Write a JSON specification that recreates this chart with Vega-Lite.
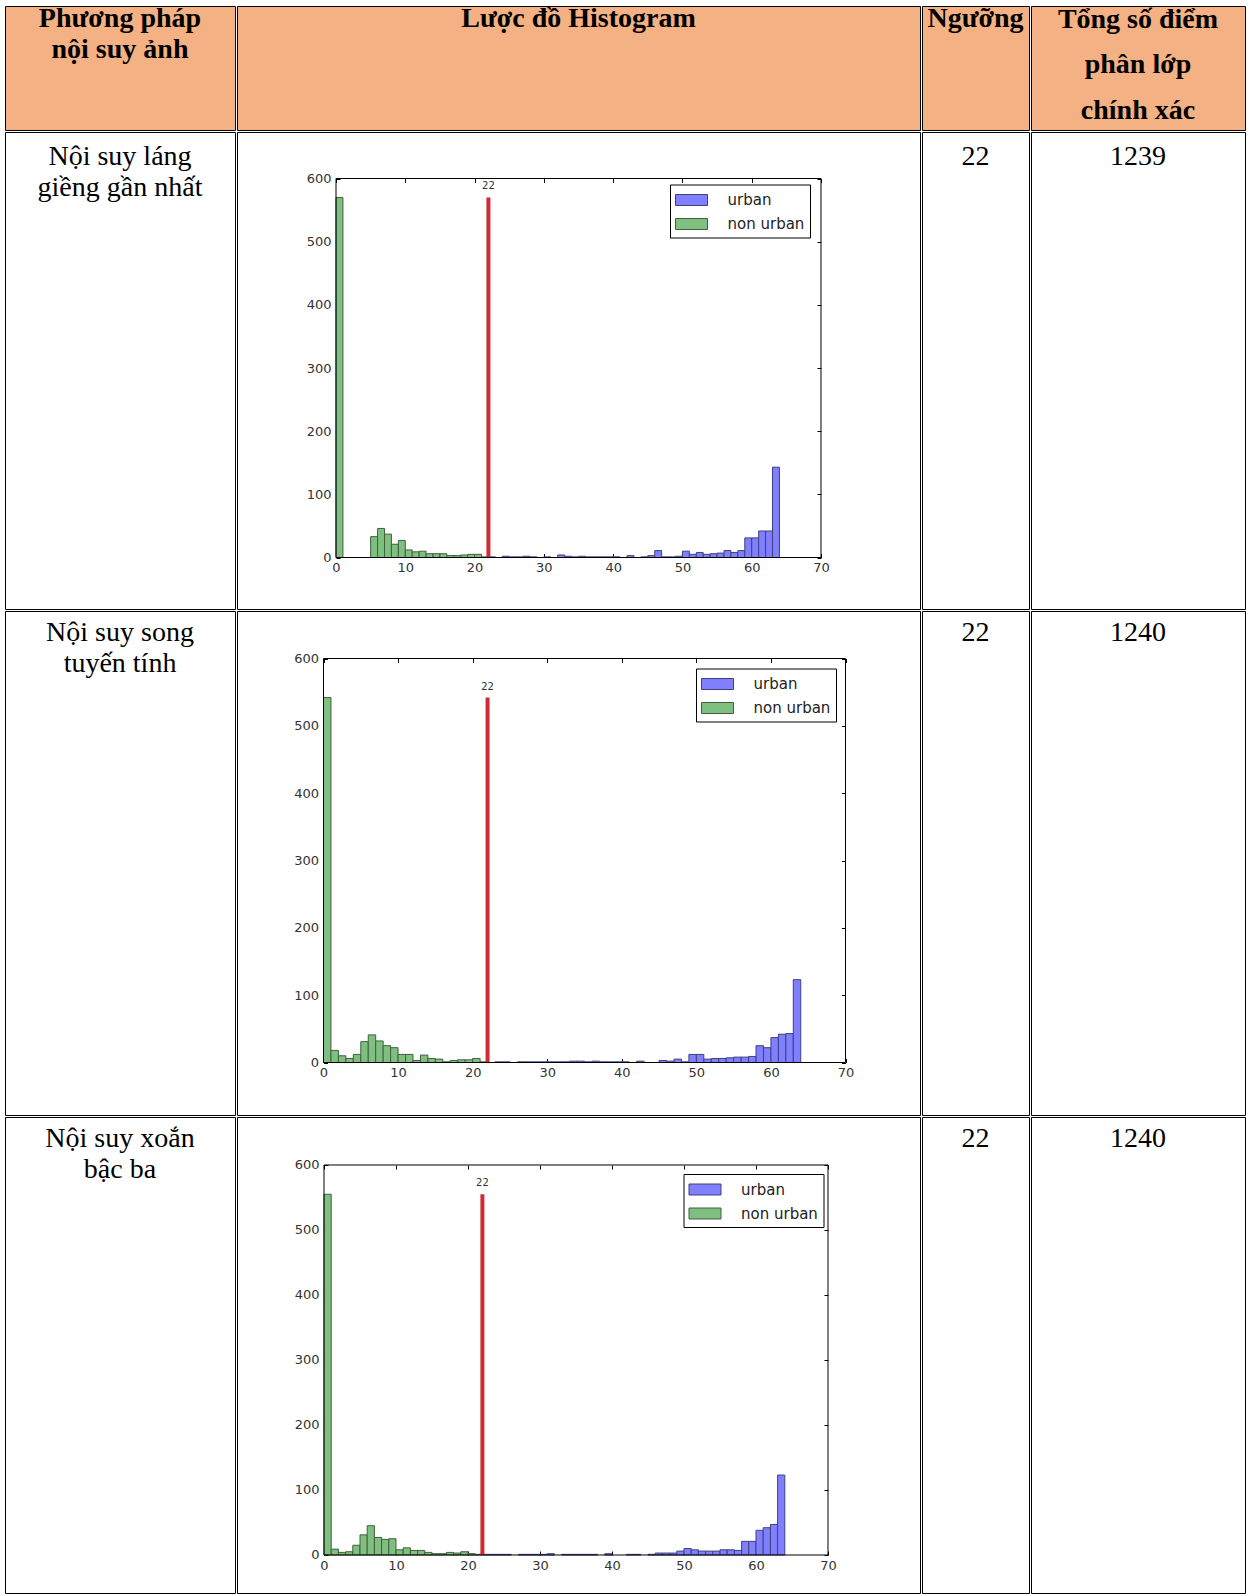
{
  "$schema": "https://vega.github.io/schema/vega-lite/v6.json",
  "padding": {"left": 4, "top": 4, "right": 0, "bottom": 0},
  "background": "white",
  "config": {
    "view": {"stroke": null},
    "concat": {"spacing": 0},
    "legend": {
      "padding": 5, "strokeColor": "black", "fillColor": "white", "cornerRadius": 0,
      "labelFont": "DejaVu Sans", "labelFontSize": 15, "labelColor": "#222",
      "symbolType": "M-1.6,-0.55H1.6V0.55H-1.6Z", "symbolSize": 400, "symbolStrokeWidth": 1,
      "symbolOffset": 6, "labelOffset": 25.5, "rowPadding": 5
    }
  },
  "resolve": {"legend": {"fill": "independent", "stroke": "independent"}},
  "datasets": {
    "h1": [
      {"lo":0,"hi":1,"n":570,"cls":"non urban"},{"lo":5,"hi":6,"n":33,"cls":"non urban"},{"lo":6,"hi":7,"n":46,"cls":"non urban"},{"lo":7,"hi":8,"n":37,"cls":"non urban"},{"lo":8,"hi":9,"n":21,"cls":"non urban"},{"lo":9,"hi":10,"n":27,"cls":"non urban"},{"lo":10,"hi":11,"n":12,"cls":"non urban"},{"lo":11,"hi":12,"n":9,"cls":"non urban"},{"lo":12,"hi":13,"n":10,"cls":"non urban"},{"lo":13,"hi":14,"n":6,"cls":"non urban"},{"lo":14,"hi":15,"n":6,"cls":"non urban"},{"lo":15,"hi":16,"n":6,"cls":"non urban"},{"lo":16,"hi":17,"n":3,"cls":"non urban"},{"lo":17,"hi":18,"n":3,"cls":"non urban"},{"lo":18,"hi":19,"n":4,"cls":"non urban"},{"lo":19,"hi":20,"n":5,"cls":"non urban"},{"lo":20,"hi":21,"n":5,"cls":"non urban"},{"lo":21,"hi":22,"n":1,"cls":"non urban"},
      {"lo":22,"hi":23,"n":1,"cls":"urban"},{"lo":24,"hi":25,"n":2,"cls":"urban"},{"lo":25,"hi":26,"n":1,"cls":"urban"},{"lo":26,"hi":27,"n":1,"cls":"urban"},{"lo":27,"hi":28,"n":2,"cls":"urban"},{"lo":28,"hi":29,"n":1,"cls":"urban"},{"lo":30,"hi":31,"n":1,"cls":"urban"},{"lo":32,"hi":33,"n":4,"cls":"urban"},{"lo":33,"hi":34,"n":2,"cls":"urban"},{"lo":34,"hi":35,"n":1,"cls":"urban"},{"lo":35,"hi":36,"n":2,"cls":"urban"},{"lo":36,"hi":37,"n":1,"cls":"urban"},{"lo":37,"hi":38,"n":1,"cls":"urban"},{"lo":38,"hi":39,"n":1,"cls":"urban"},{"lo":39,"hi":40,"n":1,"cls":"urban"},{"lo":40,"hi":41,"n":1,"cls":"urban"},{"lo":42,"hi":43,"n":3,"cls":"urban"},{"lo":44,"hi":45,"n":1,"cls":"urban"},{"lo":45,"hi":46,"n":3,"cls":"urban"},{"lo":46,"hi":47,"n":11,"cls":"urban"},{"lo":47,"hi":48,"n":1,"cls":"urban"},{"lo":48,"hi":49,"n":1,"cls":"urban"},{"lo":49,"hi":50,"n":2,"cls":"urban"},{"lo":50,"hi":51,"n":10,"cls":"urban"},{"lo":51,"hi":52,"n":5,"cls":"urban"},{"lo":52,"hi":53,"n":8,"cls":"urban"},{"lo":53,"hi":54,"n":5,"cls":"urban"},{"lo":54,"hi":55,"n":6,"cls":"urban"},{"lo":55,"hi":56,"n":7,"cls":"urban"},{"lo":56,"hi":57,"n":11,"cls":"urban"},{"lo":57,"hi":58,"n":8,"cls":"urban"},{"lo":58,"hi":59,"n":11,"cls":"urban"},{"lo":59,"hi":60,"n":31,"cls":"urban"},{"lo":60,"hi":61,"n":31,"cls":"urban"},{"lo":61,"hi":62,"n":42,"cls":"urban"},{"lo":62,"hi":63,"n":42,"cls":"urban"},{"lo":63,"hi":64,"n":143,"cls":"urban"}
    ],
    "h2": [
      {"lo":0,"hi":1,"n":542,"cls":"non urban"},{"lo":1,"hi":2,"n":18,"cls":"non urban"},{"lo":2,"hi":3,"n":10,"cls":"non urban"},{"lo":3,"hi":4,"n":6,"cls":"non urban"},{"lo":4,"hi":5,"n":12,"cls":"non urban"},{"lo":5,"hi":6,"n":31,"cls":"non urban"},{"lo":6,"hi":7,"n":41,"cls":"non urban"},{"lo":7,"hi":8,"n":32,"cls":"non urban"},{"lo":8,"hi":9,"n":25,"cls":"non urban"},{"lo":9,"hi":10,"n":22,"cls":"non urban"},{"lo":10,"hi":11,"n":12,"cls":"non urban"},{"lo":11,"hi":12,"n":12,"cls":"non urban"},{"lo":12,"hi":13,"n":3,"cls":"non urban"},{"lo":13,"hi":14,"n":11,"cls":"non urban"},{"lo":14,"hi":15,"n":6,"cls":"non urban"},{"lo":15,"hi":16,"n":5,"cls":"non urban"},{"lo":16,"hi":17,"n":1,"cls":"non urban"},{"lo":17,"hi":18,"n":3,"cls":"non urban"},{"lo":18,"hi":19,"n":4,"cls":"non urban"},{"lo":19,"hi":20,"n":4,"cls":"non urban"},{"lo":20,"hi":21,"n":6,"cls":"non urban"},{"lo":21,"hi":22,"n":1,"cls":"non urban"},
      {"lo":23,"hi":24,"n":1,"cls":"urban"},{"lo":24,"hi":25,"n":1,"cls":"urban"},{"lo":26,"hi":27,"n":1,"cls":"urban"},{"lo":27,"hi":28,"n":1,"cls":"urban"},{"lo":28,"hi":29,"n":1,"cls":"urban"},{"lo":29,"hi":30,"n":1,"cls":"urban"},{"lo":30,"hi":31,"n":1,"cls":"urban"},{"lo":31,"hi":32,"n":1,"cls":"urban"},{"lo":32,"hi":33,"n":1,"cls":"urban"},{"lo":33,"hi":34,"n":2,"cls":"urban"},{"lo":34,"hi":35,"n":2,"cls":"urban"},{"lo":35,"hi":36,"n":1,"cls":"urban"},{"lo":36,"hi":37,"n":2,"cls":"urban"},{"lo":37,"hi":38,"n":1,"cls":"urban"},{"lo":38,"hi":39,"n":1,"cls":"urban"},{"lo":39,"hi":40,"n":1,"cls":"urban"},{"lo":40,"hi":41,"n":1,"cls":"urban"},{"lo":42,"hi":43,"n":2,"cls":"urban"},{"lo":45,"hi":46,"n":3,"cls":"urban"},{"lo":46,"hi":47,"n":2,"cls":"urban"},{"lo":47,"hi":48,"n":5,"cls":"urban"},{"lo":48,"hi":49,"n":1,"cls":"urban"},{"lo":49,"hi":50,"n":12,"cls":"urban"},{"lo":50,"hi":51,"n":12,"cls":"urban"},{"lo":51,"hi":52,"n":5,"cls":"urban"},{"lo":52,"hi":53,"n":6,"cls":"urban"},{"lo":53,"hi":54,"n":6,"cls":"urban"},{"lo":54,"hi":55,"n":7,"cls":"urban"},{"lo":55,"hi":56,"n":8,"cls":"urban"},{"lo":56,"hi":57,"n":8,"cls":"urban"},{"lo":57,"hi":58,"n":9,"cls":"urban"},{"lo":58,"hi":59,"n":25,"cls":"urban"},{"lo":59,"hi":60,"n":22,"cls":"urban"},{"lo":60,"hi":61,"n":37,"cls":"urban"},{"lo":61,"hi":62,"n":42,"cls":"urban"},{"lo":62,"hi":63,"n":43,"cls":"urban"},{"lo":63,"hi":64,"n":123,"cls":"urban"}
    ],
    "h3": [
      {"lo":0,"hi":1,"n":555,"cls":"non urban"},{"lo":1,"hi":2,"n":9,"cls":"non urban"},{"lo":2,"hi":3,"n":4,"cls":"non urban"},{"lo":3,"hi":4,"n":5,"cls":"non urban"},{"lo":4,"hi":5,"n":15,"cls":"non urban"},{"lo":5,"hi":6,"n":31,"cls":"non urban"},{"lo":6,"hi":7,"n":45,"cls":"non urban"},{"lo":7,"hi":8,"n":27,"cls":"non urban"},{"lo":8,"hi":9,"n":24,"cls":"non urban"},{"lo":9,"hi":10,"n":25,"cls":"non urban"},{"lo":10,"hi":11,"n":8,"cls":"non urban"},{"lo":11,"hi":12,"n":11,"cls":"non urban"},{"lo":12,"hi":13,"n":7,"cls":"non urban"},{"lo":13,"hi":14,"n":7,"cls":"non urban"},{"lo":14,"hi":15,"n":4,"cls":"non urban"},{"lo":15,"hi":16,"n":2,"cls":"non urban"},{"lo":16,"hi":17,"n":2,"cls":"non urban"},{"lo":17,"hi":18,"n":4,"cls":"non urban"},{"lo":18,"hi":19,"n":3,"cls":"non urban"},{"lo":19,"hi":20,"n":5,"cls":"non urban"},{"lo":20,"hi":21,"n":2,"cls":"non urban"},{"lo":21,"hi":22,"n":1,"cls":"non urban"},
      {"lo":22,"hi":23,"n":1,"cls":"urban"},{"lo":23,"hi":24,"n":1,"cls":"urban"},{"lo":24,"hi":25,"n":1,"cls":"urban"},{"lo":25,"hi":26,"n":1,"cls":"urban"},{"lo":27,"hi":28,"n":1,"cls":"urban"},{"lo":28,"hi":29,"n":1,"cls":"urban"},{"lo":29,"hi":30,"n":1,"cls":"urban"},{"lo":30,"hi":31,"n":1,"cls":"urban"},{"lo":31,"hi":32,"n":2,"cls":"urban"},{"lo":33,"hi":34,"n":1,"cls":"urban"},{"lo":34,"hi":35,"n":1,"cls":"urban"},{"lo":35,"hi":36,"n":1,"cls":"urban"},{"lo":36,"hi":37,"n":1,"cls":"urban"},{"lo":37,"hi":38,"n":1,"cls":"urban"},{"lo":39,"hi":40,"n":2,"cls":"urban"},{"lo":42,"hi":43,"n":1,"cls":"urban"},{"lo":43,"hi":44,"n":1,"cls":"urban"},{"lo":45,"hi":46,"n":1,"cls":"urban"},{"lo":46,"hi":47,"n":3,"cls":"urban"},{"lo":47,"hi":48,"n":3,"cls":"urban"},{"lo":48,"hi":49,"n":3,"cls":"urban"},{"lo":49,"hi":50,"n":6,"cls":"urban"},{"lo":50,"hi":51,"n":10,"cls":"urban"},{"lo":51,"hi":52,"n":8,"cls":"urban"},{"lo":52,"hi":53,"n":6,"cls":"urban"},{"lo":53,"hi":54,"n":6,"cls":"urban"},{"lo":54,"hi":55,"n":6,"cls":"urban"},{"lo":55,"hi":56,"n":8,"cls":"urban"},{"lo":56,"hi":57,"n":8,"cls":"urban"},{"lo":57,"hi":58,"n":7,"cls":"urban"},{"lo":58,"hi":59,"n":21,"cls":"urban"},{"lo":59,"hi":60,"n":21,"cls":"urban"},{"lo":60,"hi":61,"n":38,"cls":"urban"},{"lo":61,"hi":62,"n":42,"cls":"urban"},{"lo":62,"hi":63,"n":47,"cls":"urban"},{"lo":63,"hi":64,"n":123,"cls":"urban"}
    ],
    "t1": [{"thr": 22, "top": 570}],
    "t2": [{"thr": 22, "top": 542}],
    "t3": [{"thr": 22, "top": 555}]
  },
  "vconcat": [
    {
      "resolve": {"legend": {"fill": "independent", "stroke": "independent"}},
      "hconcat": [
        {"width": 230, "height": 124, "view": {"stroke": "black", "strokeWidth": 1, "fill": "#F4B183"},
         "data": {"values": [{"line": 0, "t": "Phương pháp"}, {"line": 1, "t": "nội suy ảnh"}]},
         "mark": {"type": "text", "font": "Liberation Serif", "fontSize": 28, "fontWeight": "bold", "baseline": "middle", "color": "black"},
         "encoding": {"y": {"field": "line", "type": "quantitative", "scale": {"domain": [-0.4426, 3.623], "reverse": true, "nice": false, "zero": false}, "axis": null}, "text": {"field": "t", "type": "nominal"}}},
        {"width": 683, "height": 124, "view": {"stroke": "black", "strokeWidth": 1, "fill": "#F4B183"},
         "data": {"values": [{"line": 0, "t": "Lược đồ Histogram"}]},
         "mark": {"type": "text", "font": "Liberation Serif", "fontSize": 28, "fontWeight": "bold", "baseline": "middle", "color": "black"},
         "encoding": {"y": {"field": "line", "type": "quantitative", "scale": {"domain": [-0.4426, 3.623], "reverse": true, "nice": false, "zero": false}, "axis": null}, "text": {"field": "t", "type": "nominal"}}},
        {"width": 107, "height": 124, "view": {"stroke": "black", "strokeWidth": 1, "fill": "#F4B183"},
         "data": {"values": [{"line": 0, "t": "Ngưỡng"}]},
         "mark": {"type": "text", "font": "Liberation Serif", "fontSize": 28, "fontWeight": "bold", "baseline": "middle", "color": "black"},
         "encoding": {"y": {"field": "line", "type": "quantitative", "scale": {"domain": [-0.4426, 3.623], "reverse": true, "nice": false, "zero": false}, "axis": null}, "text": {"field": "t", "type": "nominal"}}},
        {"width": 214, "height": 124, "view": {"stroke": "black", "strokeWidth": 1, "fill": "#F4B183"},
         "data": {"values": [{"line": 0, "t": "Tổng số điểm"}, {"line": 1, "t": "phân lớp"}, {"line": 2, "t": "chính xác"}]},
         "mark": {"type": "text", "font": "Liberation Serif", "fontSize": 28, "fontWeight": "bold", "baseline": "middle", "color": "black"},
         "encoding": {"y": {"field": "line", "type": "quantitative", "scale": {"domain": [-0.2935, 2.4022], "reverse": true, "nice": false, "zero": false}, "axis": null}, "text": {"field": "t", "type": "nominal"}}}
      ]
    },
    {
      "resolve": {"legend": {"fill": "independent", "stroke": "independent"}},
      "hconcat": [
        {"width": 230, "height": 477, "view": {"stroke": "black", "strokeWidth": 1},
         "data": {"values": [{"line": 0, "t": "Nội suy láng"}, {"line": 1, "t": "giềng gần nhất"}]},
         "mark": {"type": "text", "font": "Liberation Serif", "fontSize": 28, "baseline": "middle", "color": "black"},
         "encoding": {"y": {"field": "line", "type": "quantitative", "scale": {"domain": [-0.8065, 14.5806], "reverse": true, "nice": false, "zero": false}, "axis": null}, "text": {"field": "t", "type": "nominal"}}},
        {
          "width": 683, "height": 477,
          "view": {"stroke": "black", "strokeWidth": 1},
          "layer": [
            {"data": {"name": "h1"}, "mark": {"type": "bar", "strokeWidth": 1},
             "encoding": {
               "x": {"field": "lo", "type": "quantitative", "scale": {"domain": [-14.289, 84.289], "nice": false, "zero": false},
                     "axis": {"offset": -51.5, "title": null, "values": [0,10,20,30,40,50,60,70], "domain": false, "grid": false, "tickSize": -4, "tickColor": "black", "labelPadding": 8, "labelFont": "DejaVu Sans", "labelFontSize": 13, "labelColor": "#333", "labelFlush": false, "labelOverlap": false}},
               "x2": {"field": "hi"},
               "y": {"field": "n", "type": "quantitative", "scale": {"domain": [-81.53, 673.615], "nice": false, "zero": false},
                     "axis": {"offset": -99, "title": null, "values": [0,100,200,300,400,500,600], "domain": false, "grid": false, "tickSize": -4, "tickColor": "black", "labelPadding": 9, "labelFont": "DejaVu Sans", "labelFontSize": 13, "labelColor": "#333", "labelFlush": false, "labelOverlap": false}},
               "y2": {"datum": 0},
               "fill": {"field": "cls", "type": "nominal", "scale": {"domain": ["urban", "non urban"], "range": ["#7f7fff", "#7fbf7f"]}, "legend": {"title": null, "orient": "none", "legendX": 433, "legendY": 52.5}},
               "stroke": {"field": "cls", "type": "nominal", "scale": {"domain": ["urban", "non urban"], "range": ["#40407f", "#40603f"]}, "legend": {"title": null, "orient": "none", "legendX": 433, "legendY": 52.5}}
             }},
            {"data": {"name": "t1"}, "mark": {"type": "rule", "color": "#d12a35", "strokeWidth": 4},
             "encoding": {"x": {"field": "thr", "type": "quantitative", "axis": null}, "y": {"field": "top", "type": "quantitative", "axis": null}, "y2": {"datum": 0}}},
            {"data": {"name": "t1"}, "mark": {"type": "text", "font": "DejaVu Sans", "fontSize": 10, "color": "#333", "baseline": "bottom", "dy": -6},
             "encoding": {
               "x": {"field": "thr", "type": "quantitative", "axis": {"orient": "top", "offset": -46.5, "title": null, "labels": false, "values": [0,10,20,30,40,50,60,70], "domain": false, "grid": false, "tickSize": -4, "tickColor": "black"}},
               "y": {"field": "top", "type": "quantitative", "axis": {"orient": "right", "offset": -99, "title": null, "labels": false, "values": [0,100,200,300,400,500,600], "domain": false, "grid": false, "tickSize": -4, "tickColor": "black"}},
               "text": {"field": "thr", "type": "quantitative"}
             }},
            {"data": {"values": [{}]}, "mark": {"type": "rect", "filled": false, "color": "black", "strokeWidth": 1},
             "encoding": {"x": {"datum": 0, "type": "quantitative", "axis": null}, "x2": {"datum": 70}, "y": {"datum": 0, "type": "quantitative", "axis": null}, "y2": {"datum": 600}}}
          ],
          "resolve": {"axis": {"x": "independent", "y": "independent"}}
        },
        {"width": 107, "height": 477, "view": {"stroke": "black", "strokeWidth": 1},
         "data": {"values": [{"line": 0, "t": "22"}]},
         "mark": {"type": "text", "font": "Liberation Serif", "fontSize": 28, "baseline": "middle", "color": "black"},
         "encoding": {"y": {"field": "line", "type": "quantitative", "scale": {"domain": [-0.8065, 14.5806], "reverse": true, "nice": false, "zero": false}, "axis": null}, "text": {"field": "t", "type": "nominal"}}},
        {"width": 214, "height": 477, "view": {"stroke": "black", "strokeWidth": 1},
         "data": {"values": [{"line": 0, "t": "1239"}]},
         "mark": {"type": "text", "font": "Liberation Serif", "fontSize": 28, "baseline": "middle", "color": "black"},
         "encoding": {"y": {"field": "line", "type": "quantitative", "scale": {"domain": [-0.8065, 14.5806], "reverse": true, "nice": false, "zero": false}, "axis": null}, "text": {"field": "t", "type": "nominal"}}}
      ]
    },
    {
      "resolve": {"legend": {"fill": "independent", "stroke": "independent"}},
      "hconcat": [
        {"width": 230, "height": 504, "view": {"stroke": "black", "strokeWidth": 1},
         "data": {"values": [{"line": 0, "t": "Nội suy song"}, {"line": 1, "t": "tuyến tính"}]},
         "mark": {"type": "text", "font": "Liberation Serif", "fontSize": 28, "baseline": "middle", "color": "black"},
         "encoding": {"y": {"field": "line", "type": "quantitative", "scale": {"domain": [-0.7097, 15.5484], "reverse": true, "nice": false, "zero": false}, "axis": null}, "text": {"field": "t", "type": "nominal"}}},
        {
          "width": 683, "height": 504,
          "view": {"stroke": "black", "strokeWidth": 1},
          "layer": [
            {"data": {"name": "h2"}, "mark": {"type": "bar", "strokeWidth": 1},
             "encoding": {
               "x": {"field": "lo", "type": "quantitative", "scale": {"domain": [-11.6, 79.99], "nice": false, "zero": false},
                     "axis": {"offset": -52.5, "title": null, "values": [0,10,20,30,40,50,60,70], "domain": false, "grid": false, "tickSize": -4, "tickColor": "black", "labelPadding": 8, "labelFont": "DejaVu Sans", "labelFontSize": 13, "labelColor": "#333", "labelFlush": false, "labelOverlap": false}},
               "x2": {"field": "hi"},
               "y": {"field": "n", "type": "quantitative", "scale": {"domain": [-77.97, 670.545], "nice": false, "zero": false},
                     "axis": {"offset": -86.5, "title": null, "values": [0,100,200,300,400,500,600], "domain": false, "grid": false, "tickSize": -4, "tickColor": "black", "labelPadding": 9, "labelFont": "DejaVu Sans", "labelFontSize": 13, "labelColor": "#333", "labelFlush": false, "labelOverlap": false}},
               "y2": {"datum": 0},
               "fill": {"field": "cls", "type": "nominal", "scale": {"domain": ["urban", "non urban"], "range": ["#7f7fff", "#7fbf7f"]}, "legend": {"title": null, "orient": "none", "legendX": 459, "legendY": 57.5}},
               "stroke": {"field": "cls", "type": "nominal", "scale": {"domain": ["urban", "non urban"], "range": ["#40407f", "#40603f"]}, "legend": {"title": null, "orient": "none", "legendX": 459, "legendY": 57.5}}
             }},
            {"data": {"name": "t2"}, "mark": {"type": "rule", "color": "#d12a35", "strokeWidth": 4},
             "encoding": {"x": {"field": "thr", "type": "quantitative", "axis": null}, "y": {"field": "top", "type": "quantitative", "axis": null}, "y2": {"datum": 0}}},
            {"data": {"name": "t2"}, "mark": {"type": "text", "font": "DejaVu Sans", "fontSize": 10, "color": "#333", "baseline": "bottom", "dy": -6},
             "encoding": {
               "x": {"field": "thr", "type": "quantitative", "axis": {"orient": "top", "offset": -47.5, "title": null, "labels": false, "values": [0,10,20,30,40,50,60,70], "domain": false, "grid": false, "tickSize": -4, "tickColor": "black"}},
               "y": {"field": "top", "type": "quantitative", "axis": {"orient": "right", "offset": -74.5, "title": null, "labels": false, "values": [0,100,200,300,400,500,600], "domain": false, "grid": false, "tickSize": -4, "tickColor": "black"}},
               "text": {"field": "thr", "type": "quantitative"}
             }},
            {"data": {"values": [{}]}, "mark": {"type": "rect", "filled": false, "color": "black", "strokeWidth": 1},
             "encoding": {"x": {"datum": 0, "type": "quantitative", "axis": null}, "x2": {"datum": 70}, "y": {"datum": 0, "type": "quantitative", "axis": null}, "y2": {"datum": 600}}}
          ],
          "resolve": {"axis": {"x": "independent", "y": "independent"}}
        },
        {"width": 107, "height": 504, "view": {"stroke": "black", "strokeWidth": 1},
         "data": {"values": [{"line": 0, "t": "22"}]},
         "mark": {"type": "text", "font": "Liberation Serif", "fontSize": 28, "baseline": "middle", "color": "black"},
         "encoding": {"y": {"field": "line", "type": "quantitative", "scale": {"domain": [-0.7097, 15.5484], "reverse": true, "nice": false, "zero": false}, "axis": null}, "text": {"field": "t", "type": "nominal"}}},
        {"width": 214, "height": 504, "view": {"stroke": "black", "strokeWidth": 1},
         "data": {"values": [{"line": 0, "t": "1240"}]},
         "mark": {"type": "text", "font": "Liberation Serif", "fontSize": 28, "baseline": "middle", "color": "black"},
         "encoding": {"y": {"field": "line", "type": "quantitative", "scale": {"domain": [-0.7097, 15.5484], "reverse": true, "nice": false, "zero": false}, "axis": null}, "text": {"field": "t", "type": "nominal"}}}
      ]
    },
    {
      "resolve": {"legend": {"fill": "independent", "stroke": "independent"}},
      "hconcat": [
        {"width": 230, "height": 476, "view": {"stroke": "black", "strokeWidth": 1},
         "data": {"values": [{"line": 0, "t": "Nội suy xoắn"}, {"line": 1, "t": "bậc ba"}]},
         "mark": {"type": "text", "font": "Liberation Serif", "fontSize": 28, "baseline": "middle", "color": "black"},
         "encoding": {"y": {"field": "line", "type": "quantitative", "scale": {"domain": [-0.7097, 14.6451], "reverse": true, "nice": false, "zero": false}, "axis": null}, "text": {"field": "t", "type": "nominal"}}},
        {
          "width": 683, "height": 476,
          "view": {"stroke": "black", "strokeWidth": 1},
          "layer": [
            {"data": {"name": "h3"}, "mark": {"type": "bar", "strokeWidth": 1},
             "encoding": {
               "x": {"field": "lo", "type": "quantitative", "scale": {"domain": [-12.083, 82.778], "nice": false, "zero": false},
                     "axis": {"offset": -38, "title": null, "values": [0,10,20,30,40,50,60,70], "domain": false, "grid": false, "tickSize": -4, "tickColor": "black", "labelPadding": 8, "labelFont": "DejaVu Sans", "labelFontSize": 13, "labelColor": "#333", "labelFlush": false, "labelOverlap": false}},
               "x2": {"field": "hi"},
               "y": {"field": "n", "type": "quantitative", "scale": {"domain": [-58.462, 673.846], "nice": false, "zero": false},
                     "axis": {"offset": -87, "title": null, "values": [0,100,200,300,400,500,600], "domain": false, "grid": false, "tickSize": -4, "tickColor": "black", "labelPadding": 9, "labelFont": "DejaVu Sans", "labelFontSize": 13, "labelColor": "#333", "labelFlush": false, "labelOverlap": false}},
               "y2": {"datum": 0},
               "fill": {"field": "cls", "type": "nominal", "scale": {"domain": ["urban", "non urban"], "range": ["#7f7fff", "#7fbf7f"]}, "legend": {"title": null, "orient": "none", "legendX": 446.5, "legendY": 57}},
               "stroke": {"field": "cls", "type": "nominal", "scale": {"domain": ["urban", "non urban"], "range": ["#40407f", "#40603f"]}, "legend": {"title": null, "orient": "none", "legendX": 446.5, "legendY": 57}}
             }},
            {"data": {"name": "t3"}, "mark": {"type": "rule", "color": "#d12a35", "strokeWidth": 4},
             "encoding": {"x": {"field": "thr", "type": "quantitative", "axis": null}, "y": {"field": "top", "type": "quantitative", "axis": null}, "y2": {"datum": 0}}},
            {"data": {"name": "t3"}, "mark": {"type": "text", "font": "DejaVu Sans", "fontSize": 10, "color": "#333", "baseline": "bottom", "dy": -6},
             "encoding": {
               "x": {"field": "thr", "type": "quantitative", "axis": {"orient": "top", "offset": -48, "title": null, "labels": false, "values": [0,10,20,30,40,50,60,70], "domain": false, "grid": false, "tickSize": -4, "tickColor": "black"}},
               "y": {"field": "top", "type": "quantitative", "axis": {"orient": "right", "offset": -92, "title": null, "labels": false, "values": [0,100,200,300,400,500,600], "domain": false, "grid": false, "tickSize": -4, "tickColor": "black"}},
               "text": {"field": "thr", "type": "quantitative"}
             }},
            {"data": {"values": [{}]}, "mark": {"type": "rect", "filled": false, "color": "black", "strokeWidth": 1},
             "encoding": {"x": {"datum": 0, "type": "quantitative", "axis": null}, "x2": {"datum": 70}, "y": {"datum": 0, "type": "quantitative", "axis": null}, "y2": {"datum": 600}}}
          ],
          "resolve": {"axis": {"x": "independent", "y": "independent"}}
        },
        {"width": 107, "height": 476, "view": {"stroke": "black", "strokeWidth": 1},
         "data": {"values": [{"line": 0, "t": "22"}]},
         "mark": {"type": "text", "font": "Liberation Serif", "fontSize": 28, "baseline": "middle", "color": "black"},
         "encoding": {"y": {"field": "line", "type": "quantitative", "scale": {"domain": [-0.7097, 14.6451], "reverse": true, "nice": false, "zero": false}, "axis": null}, "text": {"field": "t", "type": "nominal"}}},
        {"width": 214, "height": 476, "view": {"stroke": "black", "strokeWidth": 1},
         "data": {"values": [{"line": 0, "t": "1240"}]},
         "mark": {"type": "text", "font": "Liberation Serif", "fontSize": 28, "baseline": "middle", "color": "black"},
         "encoding": {"y": {"field": "line", "type": "quantitative", "scale": {"domain": [-0.7097, 14.6451], "reverse": true, "nice": false, "zero": false}, "axis": null}, "text": {"field": "t", "type": "nominal"}}}
      ]
    }
  ]
}
